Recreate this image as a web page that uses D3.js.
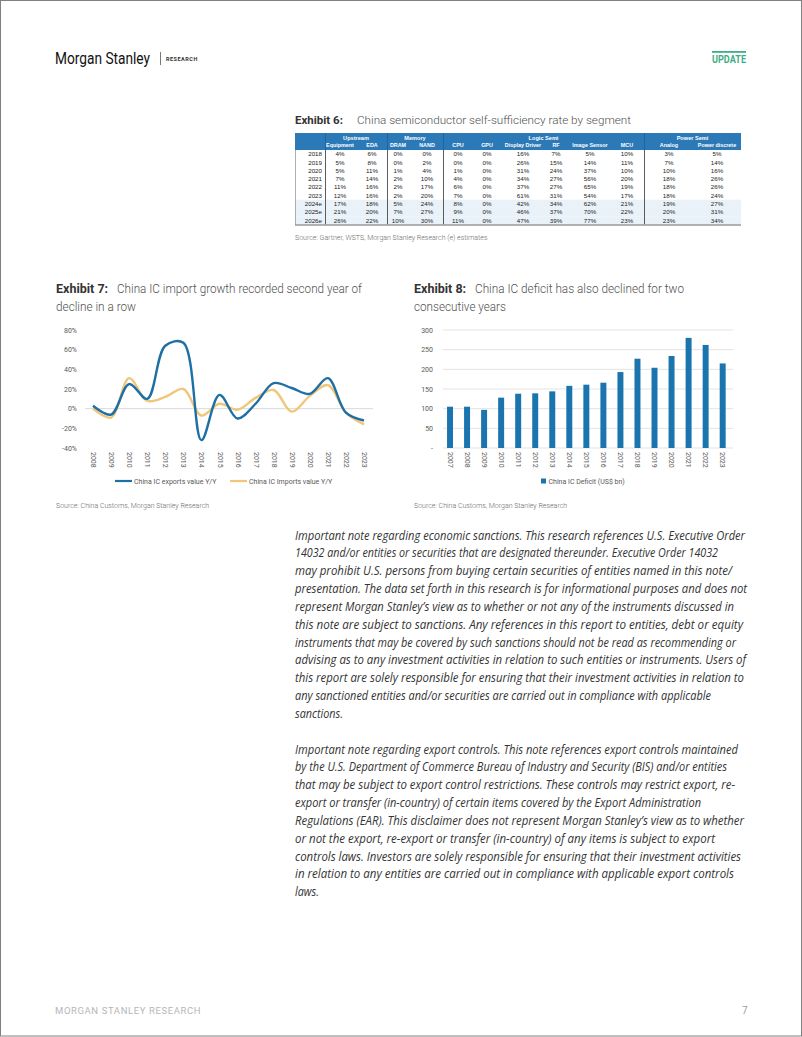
<!DOCTYPE html>
<html><head><meta charset="utf-8">
<script src="https://cdn.jsdelivr.net/npm/d3@7/dist/d3.min.js"></script>
<style>
html,body{margin:0;padding:0;background:#fff;}
svg{display:block;}
</style></head>
<body>
<svg id="page" width="802" height="1037"></svg>
<script>
// ---------- DATA ----------
const tableYears = ["2018","2019","2020","2021","2022","2023","2024e","2025e","2026e"];
const tableGroups = ["Upstream","Memory","Logic Semi","Power Semi"];
const tableCols = ["Equipment","EDA","DRAM","NAND","CPU","GPU","Display Driver","RF","Image Sensor","MCU","Analog","Power discrete"];
const equipment = [4,5,5,7,11,12,17,21,26];
const eda = [6,8,11,14,16,16,18,20,22];
const dram = [0,0,1,2,2,2,5,7,10];
const nand = [0,2,4,10,17,20,24,27,30];
const cpu = [0,0,1,4,6,7,8,9,11];
const gpu = [0,0,0,0,0,0,0,0,0];
const displayDriver = [16,26,31,34,37,61,42,46,47];
const rf = [7,15,24,27,27,31,34,37,39];
const imageSensor = [5,14,37,56,65,54,62,70,77];
const mcu = [10,11,10,20,19,17,21,22,23];
const analog = [3,7,10,18,18,18,19,20,23];
const powerDiscrete = [5,14,16,26,26,24,27,31,34];
const tableSeries = [equipment,eda,dram,nand,cpu,gpu,displayDriver,rf,imageSensor,mcu,analog,powerDiscrete];

const ex7Years = ["2008","2009","2010","2011","2012","2013","2014","2015","2016","2017","2018","2019","2020","2021","2022","2023"];
const icExports = [3,-6,25,10,64,67,-32,14,-10,5,26,21,15,31,-4,-12];
const icImports = [0,-9,31,8,12,20,-7,5,-1,11,19,-3,13,24,-4,-16];
const ex7Ticks = [-40,-20,0,20,40,60,80];

const ex8Years = ["2007","2008","2009","2010","2011","2012","2013","2014","2015","2016","2017","2018","2019","2020","2021","2022","2023"];
const icDeficit = [105,105,97,128,138,139,144,158,161,166,193,227,204,234,280,262,215];
const ex8Ticks = [0,50,100,150,200,250,300];

const para1 = [
"Important note regarding economic sanctions. This research references U.S. Executive Order",
"14032 and/or entities or securities that are designated thereunder. Executive Order 14032",
"may prohibit U.S. persons from buying certain securities of entities named in this note/",
"presentation. The data set forth in this research is for informational purposes and does not",
"represent Morgan Stanley\u2019s view as to whether or not any of the instruments discussed in",
"this note are subject to sanctions. Any references in this report to entities, debt or equity",
"instruments that may be covered by such sanctions should not be read as recommending or",
"advising as to any investment activities in relation to such entities or instruments. Users of",
"this report are solely responsible for ensuring that their investment activities in relation to",
"any sanctioned entities and/or securities are carried out in compliance with applicable",
"sanctions."];
const para2 = [
"Important note regarding export controls. This note references export controls maintained",
"by the U.S. Department of Commerce Bureau of Industry and Security (BIS) and/or entities",
"that may be subject to export control restrictions. These controls may restrict export, re-",
"export or transfer (in-country) of certain items covered by the Export Administration",
"Regulations (EAR). This disclaimer does not represent Morgan Stanley\u2019s view as to whether",
"or not the export, re-export or transfer (in-country) of any items is subject to export",
"controls laws. Investors are solely responsible for ensuring that their investment activities",
"in relation to any entities are carried out in compliance with applicable export controls",
"laws."];
// right edge of each typeset line (layout)
const para1Ends = [745,718,732,747,734,743,736,746,744,711,343];
const para2Ends = [738,727,735,701,744,715,741,734,319];

// ---------- DRAW ----------
const svg = d3.select("#page");
const F = "Roboto, 'Liberation Sans', Arial, sans-serif";
const TF = "'Liberation Sans', Arial, sans-serif";

// page border
svg.append("rect").attr("x",0.5).attr("y",0.5).attr("width",801).attr("height",1035.5)
  .attr("fill","none").attr("stroke","#808080").attr("stroke-width",1);

// header
svg.append("text").attr("x",55).attr("y",64).attr("font-family",F).attr("font-weight",400)
  .attr("textLength",95).attr("lengthAdjust","spacingAndGlyphs")
  .attr("font-size",16).attr("fill","#111").text("Morgan Stanley");
svg.append("line").attr("x1",160.5).attr("x2",160.5).attr("y1",52).attr("y2",65).attr("stroke","#555").attr("stroke-width",0.8);
svg.append("text").attr("x",166).attr("y",61).attr("font-family",F).attr("font-weight","bold")
  .attr("font-size",5.5).attr("letter-spacing",0.5).attr("fill","#333").text("RESEARCH");
svg.append("rect").attr("x",712).attr("y",51).attr("width",34).attr("height",1.8).attr("fill","#3fae85");
svg.append("text").attr("x",712).attr("y",63).attr("textLength",34).attr("lengthAdjust","spacingAndGlyphs")
  .attr("font-family",F).attr("font-weight","bold")
  .attr("font-size",10).attr("fill","#3fae85").text("UPDATE");

// footer
svg.append("text").attr("x",55).attr("y",1014).attr("font-family",F).attr("font-size",9.5)
  .attr("letter-spacing",0.6).attr("fill","#b4b7ba").text("MORGAN STANLEY RESEARCH");
svg.append("text").attr("x",742).attr("y",1014).attr("font-family",F).attr("font-size",10)
  .attr("fill","#9a9da0").text("7");

// title helper
function title(x,y,size,bold,restX,lines,widths){
  const g = svg.append("g");
  g.append("text").attr("x",x).attr("y",y).attr("font-family",F).attr("font-weight","bold")
    .attr("font-size",size).attr("fill","#333").text(bold);
  lines.forEach((t,i)=>{
    const sx = i===0?restX:x;
    g.append("text").attr("x",sx).attr("y",y+i*18).attr("font-family",F)
      .attr("font-weight",300).attr("font-size",size).attr("fill","#505050")
      .attr("textLength",widths[i]).attr("lengthAdjust","spacingAndGlyphs").text(t);
  });
}
title(295,124,11.5,"Exhibit 6:",357,["China semiconductor self-sufficiency rate by segment"],[274]);
title(56,293,12.5,"Exhibit 7:",117,["China IC import growth recorded second year of","decline in a row"],[245,80]);
title(414,293,12.5,"Exhibit 8:",475,["China IC deficit has also declined for two","consecutive years"],[209,92]);

// ---------- TABLE ----------
const tX0 = 295, tX1 = 741;
const colCenters = [340,372,398,427,458,487,523,556,590,627,669,717];
const groupBounds = [[325,387],[387,443],[443,644],[644,741]];
const rowY = d3.scaleBand().domain(tableYears).range([150,224.5]);
const headBlue = "#2b79b7";
svg.append("rect").attr("x",tX0).attr("y",133).attr("width",tX1-tX0).attr("height",17).attr("fill",headBlue);
svg.selectAll(".shade").data(tableYears.filter(d=>d.endsWith("e"))).enter().append("rect")
  .attr("x",tX0).attr("y",d=>rowY(d)).attr("width",tX1-tX0).attr("height",rowY.bandwidth()).attr("fill","#eaf2f9");
svg.selectAll(".gh").data(tableGroups).enter().append("text")
  .attr("x",(d,i)=>(groupBounds[i][0]+groupBounds[i][1])/2).attr("y",139.6)
  .attr("text-anchor","middle").attr("font-family",TF).attr("font-weight","bold").attr("font-size",5.6)
  .attr("fill","#fff").text(d=>d);
svg.selectAll(".ch").data(tableCols).enter().append("text")
  .attr("x",(d,i)=>colCenters[i]).attr("y",147.4)
  .attr("text-anchor","middle").attr("font-family",TF).attr("font-weight","bold").attr("font-size",5.4)
  .attr("fill","#fff").text(d=>d);
svg.selectAll(".yr").data(tableYears).enter().append("text")
  .attr("x",322).attr("y",d=>rowY(d)+rowY.bandwidth()/2+2.2).attr("text-anchor","end")
  .attr("font-family",TF).attr("font-size",6.2).attr("fill","#222").text(d=>d);
tableSeries.forEach((s,ci)=>{
  svg.selectAll(".v"+ci).data(s).enter().append("text")
    .attr("x",colCenters[ci]).attr("y",(d,ri)=>rowY(tableYears[ri])+rowY.bandwidth()/2+2.2)
    .attr("text-anchor","middle").attr("font-family",TF).attr("font-size",6.2).attr("fill","#222")
    .text(d=>d+"%");
});
[325,387,443,644].forEach(x=>{
  svg.append("line").attr("x1",x+0.5).attr("x2",x+0.5).attr("y1",133).attr("y2",150).attr("stroke","#1d5f94").attr("stroke-width",0.8);
  svg.append("line").attr("x1",x+0.5).attr("x2",x+0.5).attr("y1",150).attr("y2",224.5).attr("stroke","#333").attr("stroke-width",0.8);
});
svg.append("line").attr("x1",tX0+0.5).attr("x2",tX0+0.5).attr("y1",150).attr("y2",225).attr("stroke","#999").attr("stroke-width",0.8);
svg.append("line").attr("x1",tX0).attr("x2",tX1).attr("y1",225).attr("y2",225).attr("stroke","#999").attr("stroke-width",1.4);

svg.append("text").attr("x",295).attr("y",239.5).attr("font-family",F).attr("font-weight",300).attr("font-size",7)
  .attr("fill","#6b6b6b").text("Source: Gartner, WSTS, Morgan Stanley Research (e) estimates");

// ---------- EXHIBIT 7 ----------
const x7 = d3.scalePoint().domain(ex7Years).range([93,364]);
const y7 = d3.scaleLinear().domain([-40,80]).range([448,330]);
const g7 = svg.append("g");
g7.append("line").attr("x1",85).attr("x2",373).attr("y1",y7(0)).attr("y2",y7(0)).attr("stroke","#d9d9d9").attr("stroke-width",1);
const ay7 = g7.append("g").attr("transform","translate(80,0)")
  .call(d3.axisLeft(y7).tickValues(ex7Ticks).tickSize(0).tickPadding(3).tickFormat(d=>d+"%"));
ay7.select(".domain").remove();
ay7.selectAll("text").attr("font-family",F).attr("font-size",7).attr("fill","#595959");
const ax7 = g7.append("g").attr("transform","translate(0,452)")
  .call(d3.axisBottom(x7).tickSize(0).tickPadding(0));
ax7.select(".domain").remove();
ax7.selectAll("text").attr("font-family",F).attr("font-size",7).attr("fill","#595959")
  .attr("text-anchor","start").attr("dy","0.35em").attr("y",0).attr("transform","rotate(90)");
const line7 = d3.line().x((d,i)=>x7(ex7Years[i])).y(d=>y7(d)).curve(d3.curveCatmullRom.alpha(0.5));
g7.append("path").datum(icImports).attr("d",line7).attr("fill","none").attr("stroke","#f0c67a").attr("stroke-width",2.4);
g7.append("path").datum(icExports).attr("d",line7).attr("fill","none").attr("stroke","#1d6fa5").attr("stroke-width",2.4);
const leg7 = [{t:"China IC exports value Y/Y",c:"#1d6fa5",x:115},{t:"China IC Imports value Y/Y",c:"#f0c67a",x:230}];
leg7.forEach(l=>{
  g7.append("line").attr("x1",l.x).attr("x2",l.x+17).attr("y1",481).attr("y2",481).attr("stroke",l.c).attr("stroke-width",2.2);
  g7.append("text").attr("x",l.x+19).attr("y",483.5).attr("font-family",F).attr("font-size",7).attr("fill","#595959").text(l.t);
});
svg.append("text").attr("x",56).attr("y",507.5).attr("font-family",F).attr("font-weight",300).attr("font-size",7)
  .attr("fill","#6b6b6b").text("Source: China Customs, Morgan Stanley Research");

// ---------- EXHIBIT 8 ----------
const x8 = d3.scaleBand().domain(ex8Years).range([441.5,731.2]).paddingInner(0.65).paddingOuter(0.325);
const y8 = d3.scaleLinear().domain([0,300]).range([448,330]);
const g8 = svg.append("g");
g8.selectAll(".grid").data(ex8Ticks).enter().append("line")
  .attr("x1",443).attr("x2",733).attr("y1",d=>y8(d)).attr("y2",d=>y8(d)).attr("stroke","#e3e3e3").attr("stroke-width",1);
const ay8 = g8.append("g").attr("transform","translate(436,0)")
  .call(d3.axisLeft(y8).tickValues(ex8Ticks).tickSize(0).tickPadding(3).tickFormat(d=>d===0?"-":d));
ay8.select(".domain").remove();
ay8.selectAll("text").attr("font-family",F).attr("font-size",7).attr("fill","#595959");
g8.selectAll(".bar").data(icDeficit).enter().append("rect")
  .attr("x",(d,i)=>x8(ex8Years[i])).attr("width",x8.bandwidth())
  .attr("y",d=>y8(d)).attr("height",d=>y8(0)-y8(d)).attr("fill","#1a74ad");
const ax8 = g8.append("g").attr("transform","translate(0,452)")
  .call(d3.axisBottom(x8).tickSize(0).tickPadding(0));
ax8.select(".domain").remove();
ax8.selectAll("text").attr("font-family",F).attr("font-size",7).attr("fill","#595959")
  .attr("text-anchor","start").attr("dy","0.35em").attr("y",0).attr("transform","rotate(90)");
g8.append("rect").attr("x",541).attr("y",478.5).attr("width",5).attr("height",5).attr("fill","#1a74ad");
g8.append("text").attr("x",548.5).attr("y",483.5).attr("font-family",F).attr("font-size",7).attr("fill","#595959").text("China IC Deficit (US$ bn)");
svg.append("text").attr("x",414).attr("y",507.5).attr("font-family",F).attr("font-weight",300).attr("font-size",7)
  .attr("fill","#6b6b6b").text("Source: China Customs, Morgan Stanley Research");

// ---------- PARAGRAPHS ----------
function para(lines,ends,y0){
  svg.append("g").selectAll("text").data(lines).enter().append("text")
    .attr("x",295).attr("y",(d,i)=>y0+i*17.85)
    .attr("font-family","'Open Sans', 'Noto Sans', sans-serif").attr("font-style","italic")
    .attr("font-size",12).attr("fill","#333")
    .attr("textLength",(d,i)=>ends[i]-295).attr("lengthAdjust","spacingAndGlyphs")
    .text(d=>d);
}
para(para1,para1Ends,539.5);
para(para2,para2Ends,753.5);
</script>
</body></html>
